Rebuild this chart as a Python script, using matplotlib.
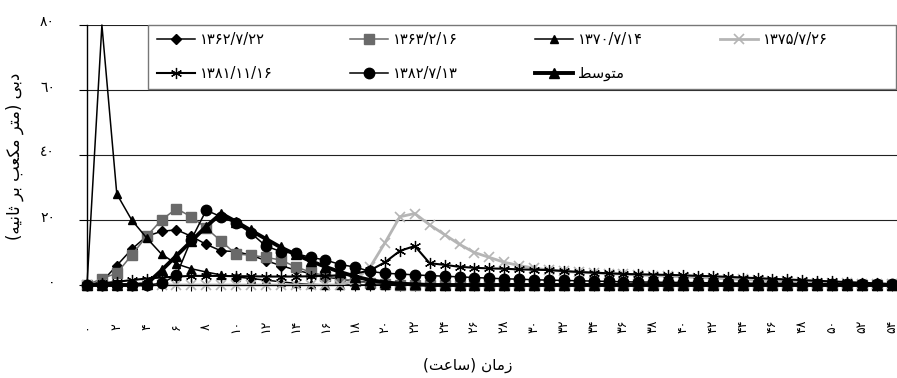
import matplotlib
matplotlib.use("Agg")
import matplotlib.pyplot as plt
import matplotlib.transforms as mtransforms
from matplotlib.patches import Rectangle

plt.rcParams['font.family'] = ['DejaVu Sans']

# ---------------- data ----------------
hours = list(range(55))

s1362 = [0, 1, 6, 11, 15, 16.5, 17, 15, 12.5, 10.5, 10.3, 9.2, 7.5, 6, 4.6, 3.5, 2.5, 1.8, 1.2, 0.8,
         0.5, 0.3, 0.2, 0.1] + [0] * 31
s1363 = [0, 2, 3.6, 9.2, 15, 20, 23.5, 21, 17.5, 13.5, 9.5, 9.2, 8.5, 7.7, 5.6, 4, 2.8, 2, 1.2, 0.6,
         0.3, 0.1] + [0] * 33
s1370 = [0, 80, 28, 20, 14.5, 9.5, 6.5, 5, 4, 3.1, 2.5, 2, 1.5, 1, 0.5, 0.2] + [0] * 39
s1375 = [0] * 18 + [1.5, 5.5, 13, 21, 22, 18.5, 15.5, 12.5, 10, 8.5, 7, 6, 5.2, 4.6, 4.2, 3.9, 3.7, 3.5,
                    3.3, 3.1, 2.9, 2.7, 2.5, 2.3, 2.1, 1.9, 1.7, 1.5, 1.3, 1.1, 0.9, 0.7, 0.6, 0.5, 0.4,
                    0.3, 0.2]
s1381 = [0, 0.5, 1, 1.5, 2, 2.3, 2.6, 2.8, 2.8, 2.8, 2.7, 2.7, 2.6, 2.6, 2.6, 2.7, 2.8, 3, 3.5, 4.5,
         7, 10.5, 12, 6.7, 6.2, 5.6, 5.3, 5.1, 5, 4.8, 4.7, 4.6, 4.3, 4, 3.8, 3.6, 3.4, 3.3, 3.2, 3.1,
         3, 2.8, 2.7, 2.5, 2.3, 2.1, 1.9, 1.7, 1.5, 1.3, 1.1, 0.9, 0.7, 0.5, 0.3]
s1382 = [0, 0, 0, 0, 0, 0.5, 3, 14, 23, 21, 19, 16, 12, 10.3, 9.7, 8.5, 7.7, 6.3, 5.5, 4.2, 3.6, 3.4,
         3.1, 2.9, 2.7, 2.5, 2.3, 2.1, 1.9, 1.8, 1.6, 1.5, 1.4, 1.3, 1.2, 1.1, 1.0, 0.9, 0.9, 0.8, 0.8,
         0.7, 0.7, 0.6, 0.6, 0.5, 0.5, 0.5, 0.4, 0.4, 0.4, 0.3, 0.3, 0.3, 0.3]
s_avg = [0, 0, 0, 0, 0.3, 4.5, 9, 13.5, 18, 22, 19.5, 16.8, 14.2, 11.6, 9.4, 7.4, 5.6, 4, 2.6, 1.5,
         0.8, 0.4, 0.2] + [0] * 32

series_labels = ['۱۳۶۲/۷/۲۲', '۱۳۶۳/۲/۱۶', '۱۳۷۰/۷/۱۴', '۱۳۷۵/۷/۲۶', '۱۳۸۱/۱۱/۱۶', '۱۳۸۲/۷/۱۳', 'متوسط']
y_ticks = [0, 20, 40, 60, 80]
y_tick_labels = ['٠', '٢٠', '٤٠', '٦٠', '٨٠']
x_label_text = 'زمان (ساعت)'
y_label_text = 'دبی (متر مکعب بر ثانیه)'

# ---------------- minimal Persian shaping ----------------
FORMS = {
    'ا': ('\uFE8D', '\uFE8E', None, None),
    'ب': ('\uFE8F', '\uFE90', '\uFE91', '\uFE92'),
    'ت': ('\uFE95', '\uFE96', '\uFE97', '\uFE98'),
    'ث': ('\uFE99', '\uFE9A', '\uFE9B', '\uFE9C'),
    'د': ('\uFEA9', '\uFEAA', None, None),
    'ر': ('\uFEAD', '\uFEAE', None, None),
    'ز': ('\uFEAF', '\uFEB0', None, None),
    'س': ('\uFEB1', '\uFEB2', '\uFEB3', '\uFEB4'),
    'ط': ('\uFEC1', '\uFEC2', '\uFEC3', '\uFEC4'),
    'ع': ('\uFEC9', '\uFECA', '\uFECB', '\uFECC'),
    'ک': ('\uFED9', '\uFEDA', '\uFEDB', '\uFEDC'),
    'م': ('\uFEE1', '\uFEE2', '\uFEE3', '\uFEE4'),
    'ن': ('\uFEE5', '\uFEE6', '\uFEE7', '\uFEE8'),
    'ه': ('\uFEE9', '\uFEEA', '\uFEEB', '\uFEEC'),
    'و': ('\uFEED', '\uFEEE', None, None),
    'ی': ('\uFEEF', '\uFEF0', '\uFEF3', '\uFEF4'),
}


def shape_rtl(text):
    out = []
    n = len(text)
    for i, ch in enumerate(text):
        if ch not in FORMS:
            out.append(ch)
            continue
        prev = text[i - 1] if i > 0 else None
        nxt = text[i + 1] if i < n - 1 else None
        join_prev = prev in FORMS and FORMS[prev][2] is not None
        join_next = nxt in FORMS and FORMS[ch][2] is not None
        iso, fin, ini, med = FORMS[ch]
        if join_prev and join_next:
            out.append(med)
        elif join_prev:
            out.append(fin)
        elif join_next:
            out.append(ini)
        else:
            out.append(iso)
    mirror = {'(': ')', ')': '('}
    return ''.join(mirror.get(c, c) for c in reversed(out))


def fa_digits(s):
    return str(s).translate(str.maketrans('0123456789', '۰۱۲۳۴۵۶۷۸۹'))


# ---------------- figure ----------------
W, H = 897, 378
fig = plt.figure(figsize=(W / 100, H / 100), dpi=100)
x0, x1, ytop, ybot = 87, 897, 25, 285
ax = fig.add_axes([x0 / W, 1 - ybot / H, (x1 - x0) / W, (ybot - ytop) / H])

not_first = [i for i in hours if i != 1]
styles = [
    dict(color='black', marker='D', ms=5.5, lw=1.1, mfc='black', mec='black'),
    dict(color='#6a6a6a', marker='s', ms=6.5, lw=1.1, mfc='#6a6a6a', mec='#6a6a6a'),
    dict(color='black', marker='^', ms=6, lw=1.1, mfc='black', mec='black', markevery=not_first),
    dict(color='#b5b5b5', marker='x', ms=7, mew=1.2, lw=2.0),
    dict(color='black', marker=(6, 2, 0), ms=8, mew=0.9, lw=1.5),
    dict(color='black', marker='o', ms=7.5, lw=1.1, mfc='black', mec='black'),
    dict(color='black', marker='^', ms=7, lw=2.8, mfc='black', mec='black'),
]
all_series = [s1362, s1363, s1370, s1375, s1381, s1382, s_avg]
handles = []
for vals, lab, st in zip(all_series, series_labels, styles):
    disp = shape_rtl(lab) if lab == 'متوسط' else lab
    h, = ax.plot(hours, vals, label=disp, clip_on=False, **st)
    handles.append(h)

px_per_h = 14.9
ax.set_xlim(0, (x1 - x0) / px_per_h)
ax.set_ylim(0, 80)

# y axis
ax.set_yticks(y_ticks)
ax.set_yticklabels(y_tick_labels, fontsize=10)
ax.tick_params(axis='y', direction='out', length=6, width=0.8, pad=17, colors='black')
ax.yaxis.grid(True, color='#222222', lw=0.8)
ax.set_axisbelow(True)
off = mtransforms.ScaledTranslation(0, 4 / 100, fig.dpi_scale_trans)
for lbl in ax.get_yticklabels():
    lbl.set_transform(lbl.get_transform() + off)

# x axis
ax.set_xticks(hours)
ax.set_xticklabels([fa_digits(h) if h % 2 == 0 else '' for h in hours],
                   rotation=90, va='center', fontsize=9)
ax.tick_params(axis='x', direction='inout', length=8, width=0.8, pad=26)

for side in ['top', 'right']:
    ax.spines[side].set_visible(False)
ax.spines['left'].set_color('black')
ax.spines['left'].set_linewidth(1.0)
ax.spines['bottom'].set_color('black')

fig.text(468 / W, 1 - 365 / H, shape_rtl(x_label_text), ha='center', va='center', fontsize=11)
fig.text(15 / W, 1 - 156 / H, shape_rtl(y_label_text), ha='center', va='center', fontsize=12,
         rotation=90)

# legend frame drawn separately, legend itself without frame
frame = Rectangle((148 / W, 1 - 89 / H), (896 - 148) / W, (89 - 25) / H,
                  transform=fig.transFigure, facecolor='white', edgecolor='#777777',
                  lw=1.0, zorder=3)
fig.patches.append(frame)

order = [0, 4, 1, 5, 2, 6, 3]
leg = fig.legend([handles[i] for i in order], [handles[i].get_label() for i in order],
                 ncol=4, loc='upper left',
                 bbox_to_anchor=(157 / W, 1 - 32 / H),
                 fontsize=10.5, handlelength=2.6, handletextpad=0.35,
                 columnspacing=5.3, labelspacing=1.3, borderpad=0.0, borderaxespad=0.0,
                 frameon=False)
leg.set_zorder(5)

fig.savefig('out.png', dpi=100)
